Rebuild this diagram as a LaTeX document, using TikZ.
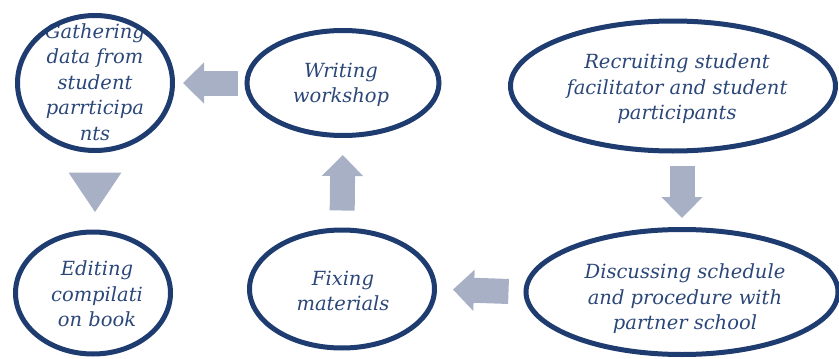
\documentclass[tikz,border=0pt]{standalone}
\usepackage{fontspec}
\setmainfont{DejaVu Serif}
\usetikzlibrary{shapes.geometric,arrows.meta}

\definecolor{navy}{HTML}{1F3C70}
\definecolor{inknavy}{HTML}{2B4779}
\definecolor{steel}{HTML}{A7B0C4}

\begin{document}
\begin{tikzpicture}[x = 1pt, y = -1pt,
  font = \itshape\fontsize{19.5}{25.5}\selectfont,
  stage/.style = {ellipse, draw = navy, line width = 5pt, inner sep = 0pt},
  stagetext/.style = {text = inknavy, align = center, inner sep = 0pt},
  flow/.style = {draw = steel, line width = 25pt, -{Triangle[width = 40pt, length = 21pt]}}]
\useasboundingbox (0,0) rectangle (839,359);

% texts first, so the rings sit on top of them
\node [stagetext] (gather-t) at (95,82) {Gathering\\data from\\student\\parrticipa\\nts};
\node [stagetext] (writing-t) at (341,85) {Writing\\workshop};
\node [stagetext] (recruit-t) at (677,89) {Recruiting student\\facilitator and student\\participants};
\node [stagetext] (edit-t) at (97,294) {Editing\\compilati\\on book};
\node [stagetext] (fix-t) at (343,291) {Fixing\\materials};
\node [stagetext] (discuss-t) at (685,299) {Discussing schedule\\and procedure with\\partner school};

% the rings
\node [stage, minimum width = 155pt, minimum height = 135pt] (gather) at (95,83) {};
\node [stage, minimum width = 192pt, minimum height = 105pt] (writing) at (343,83) {};
\node [stage, minimum width = 325pt, minimum height = 130pt] (recruit) at (673,86) {};
\node [stage, minimum width = 155pt, minimum height = 122pt] (edit) at (93,293) {};
\node [stage, minimum width = 185pt, minimum height = 118pt] (fix) at (342,289) {};
\node [stage, minimum width = 312pt, minimum height = 125pt] (discuss) at (682,292) {};

% block arrows between the steps
\draw [flow, shorten < = 12pt, shorten > = 9pt] (recruit.south -| discuss.north) -- (discuss.north);
\draw [flow, shorten < = 15pt, shorten > = 16pt] (discuss.west) -- (fix.east);
\draw [flow, shorten < = 17pt, shorten > = 17pt] (fix.north) -- (writing.south);
\draw [flow, shorten < = 7pt, shorten > = 8pt] (writing.west) -- (gather.east);
\draw [flow, -{Triangle[width = 50pt, length = 40pt]}, shorten < = 20pt, shorten > = 17pt]
  (gather.south) -- (gather.south |- edit.north);
\end{tikzpicture}
\end{document}
